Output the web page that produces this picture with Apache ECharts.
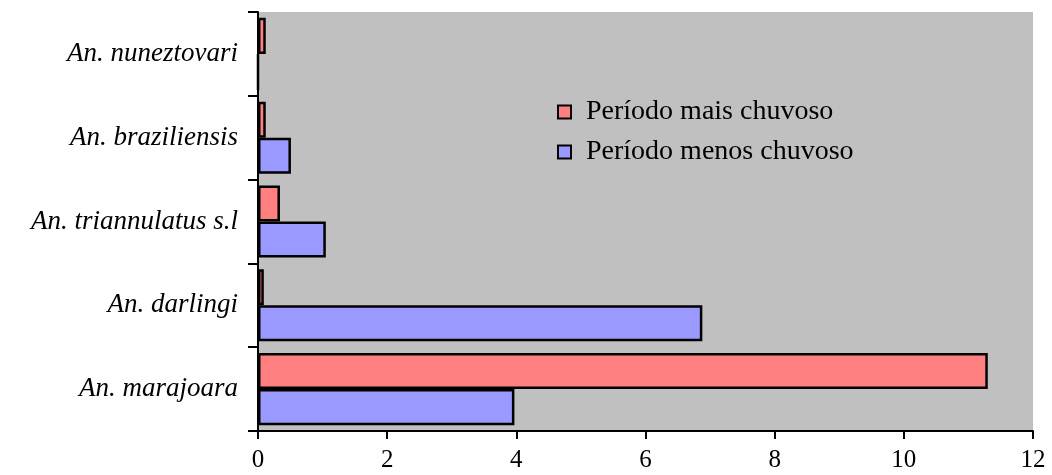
<!DOCTYPE html>
<html>
<head>
<meta charset="utf-8">
<script src="https://cdn.jsdelivr.net/npm/echarts@6/dist/echarts.min.js"></script>
<style>
  html, body { margin: 0; padding: 0; background: #fff; }
  #main { width: 1052px; height: 475px; }
</style>
</head>
<body>
<div id="main"></div>
<script>
// categories, bottom to top
let species = ['An. marajoara', 'An. darlingi', 'An. triannulatus s.l', 'An. braziliensis', 'An. nuneztovari'];
let maisChuvoso = [11.3, 0.09, 0.34, 0.12, 0.12];
let menosChuvoso = [3.97, 6.88, 1.05, 0.51, 0];
let seriesNames = ['Período mais chuvoso', 'Período menos chuvoso'];

let font = 'Liberation Serif';

let myChart = echarts.init(document.getElementById('main'));

let option = {
    animation: false,
    textStyle: { fontFamily: font },
    grid: {
        left: 258, right: 19, top: 12, bottom: 44,
        show: true,
        backgroundColor: '#c0c0c0',
        borderWidth: 0
    },
    legend: {
        data: seriesNames,
        orient: 'vertical',
        left: 552,
        top: 93,
        itemWidth: 13,
        itemHeight: 13,
        itemGap: 12,
        icon: 'rect',
        textStyle: { fontFamily: font, fontSize: 28, color: '#000', padding: [0, 0, 0, 10] }
    },
    xAxis: {
        type: 'value',
        min: 0, max: 12, interval: 2,
        splitLine: { show: false },
        axisLine: { show: true, lineStyle: { color: '#000', width: 2 } },
        axisTick: { show: true, length: 8, lineStyle: { color: '#000', width: 2 } },
        axisLabel: { fontFamily: font, fontSize: 25, color: '#000', margin: 17 }
    },
    yAxis: {
        type: 'category',
        data: species,
        axisLine: { lineStyle: { color: '#000', width: 2 } },
        axisTick: { show: true, length: 10, lineStyle: { color: '#000', width: 2 } },
        axisLabel: { fontFamily: font, fontSize: 27, fontStyle: 'italic', color: '#000', margin: 20 }
    },
    series: [
        {
            name: seriesNames[0],
            type: 'bar',
            data: maisChuvoso,
            barGap: '0%',
            barCategoryGap: '14%',
            itemStyle: { color: '#ff8080', borderColor: '#000', borderWidth: 2.5 }
        },
        {
            name: seriesNames[1],
            type: 'bar',
            data: menosChuvoso,
            barGap: '0%',
            barCategoryGap: '14%',
            itemStyle: { color: '#9999ff', borderColor: '#000', borderWidth: 2.5 }
        }
    ]
};

myChart.setOption(option);
</script>
</body>
</html>
